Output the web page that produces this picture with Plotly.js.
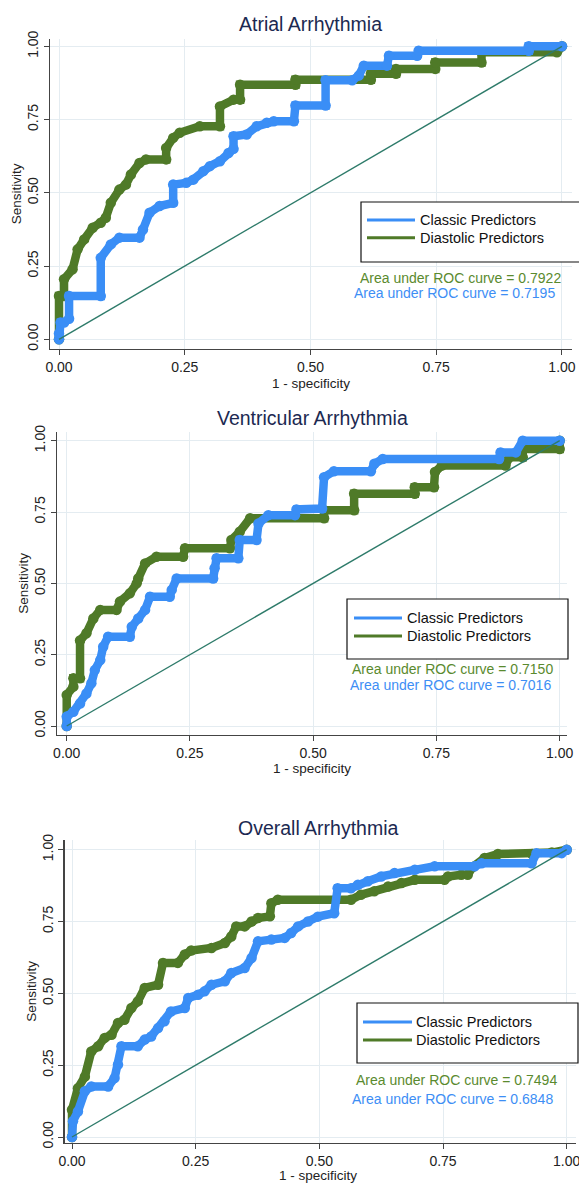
<!DOCTYPE html>
<html>
<head>
<meta charset="utf-8">
<script src="https://cdn.plot.ly/plotly-3.0.1.min.js"></script>
<style>html,body{margin:0;padding:0;background:#fff;}#chart{width:579px;height:1184px;}</style>
</head>
<body>
<div id="chart"></div>
<script>
// ---------- data ----------
const panelTitles = ["Atrial Arrhythmia", "Ventricular Arrhythmia", "Overall Arrhythmia"];
const seriesNames = ["Classic Predictors", "Diastolic Predictors"];
const aucClassic = ["0.7195", "0.7016", "0.6848"];
const aucDiastolic = ["0.7922", "0.7150", "0.7494"];
const tickVals = [0, 0.25, 0.5, 0.75, 1];
const tickLabels = ["0.00", "0.25", "0.50", "0.75", "1.00"];
const xTitle = "1 - specificity";
const yTitle = "Sensitivity";
const refX = [0, 1];
const refY = [0, 1];

// Atrial
const atrialClassicX = [0,0,0.003,0.01,0.02,0.02,0.083,0.083,0.103,0.12,0.16,0.167,0.18,0.2,0.227,0.227,0.253,0.267,0.287,0.3,0.32,0.337,0.347,0.347,0.373,0.393,0.413,0.427,0.467,0.47,0.53,0.53,0.583,0.596,0.606,0.652,0.656,0.712,0.715,0.934,0.934,1.0];
const atrialClassicY = [0,0.02,0.057,0.057,0.07,0.148,0.148,0.278,0.324,0.347,0.347,0.375,0.432,0.455,0.466,0.528,0.534,0.545,0.574,0.591,0.608,0.636,0.65,0.693,0.699,0.727,0.739,0.744,0.744,0.798,0.798,0.884,0.884,0.9,0.934,0.934,0.968,0.968,0.985,0.985,1.0,1.0];
const atrialDiastolicX = [0,0,0.01,0.01,0.027,0.037,0.05,0.067,0.083,0.093,0.103,0.12,0.133,0.143,0.16,0.173,0.213,0.213,0.227,0.24,0.28,0.32,0.32,0.347,0.36,0.36,0.47,0.47,0.62,0.62,0.67,0.67,0.748,0.748,0.84,0.84,0.99,1.0];
const atrialDiastolicY = [0,0.148,0.148,0.205,0.239,0.307,0.341,0.381,0.398,0.415,0.466,0.511,0.528,0.5625,0.602,0.614,0.614,0.653,0.6875,0.705,0.727,0.727,0.795,0.818,0.818,0.869,0.869,0.886,0.886,0.906,0.906,0.923,0.923,0.945,0.945,0.98,0.98,1.0];

// Ventricular
const ventClassicX = [0,0,0.0135,0.027,0.04,0.05,0.057,0.068,0.074,0.084,0.128,0.132,0.145,0.159,0.169,0.209,0.213,0.223,0.297,0.30,0.304,0.348,0.351,0.385,0.389,0.409,0.463,0.466,0.518,0.522,0.542,0.617,0.624,0.641,0.877,0.88,0.911,0.925,1.0];
const ventClassicY = [0,0.033,0.05,0.079,0.114,0.15,0.196,0.231,0.278,0.313,0.313,0.348,0.377,0.407,0.453,0.453,0.477,0.517,0.517,0.553,0.588,0.588,0.652,0.652,0.71,0.739,0.739,0.759,0.762,0.872,0.893,0.893,0.919,0.936,0.936,0.959,0.959,1.0,1.0];
const ventDiastolicX = [0,0,0.0135,0.0135,0.027,0.027,0.04,0.054,0.068,0.101,0.108,0.128,0.142,0.145,0.159,0.182,0.236,0.24,0.331,0.334,0.351,0.372,0.522,0.522,0.583,0.583,0.706,0.706,0.745,0.747,0.761,0.89,0.898,0.925,0.925,1.0,1.0];
const ventDiastolicY = [0,0.109,0.138,0.167,0.167,0.30,0.325,0.377,0.407,0.407,0.436,0.465,0.5,0.517,0.57,0.593,0.593,0.623,0.623,0.652,0.681,0.728,0.728,0.756,0.756,0.814,0.814,0.837,0.837,0.89,0.913,0.913,0.942,0.942,0.971,0.971,1.0];

// Overall
const overallClassicX = [0,0.002,0.012,0.026,0.039,0.073,0.086,0.093,0.1,0.133,0.147,0.16,0.174,0.187,0.2,0.228,0.235,0.255,0.268,0.282,0.309,0.322,0.349,0.363,0.376,0.403,0.43,0.443,0.457,0.477,0.497,0.53,0.537,0.564,0.578,0.598,0.625,0.652,0.693,0.733,0.814,0.828,0.929,0.939,0.99,1.0];
const overallClassicY = [0,0.055,0.089,0.159,0.176,0.176,0.205,0.252,0.316,0.316,0.339,0.35,0.379,0.403,0.437,0.449,0.484,0.495,0.507,0.53,0.542,0.571,0.588,0.623,0.681,0.687,0.693,0.71,0.733,0.75,0.767,0.779,0.866,0.866,0.878,0.89,0.907,0.919,0.93,0.942,0.942,0.953,0.953,0.988,0.988,1.0];
const overallDiastolicX = [0,0,0.012,0.026,0.039,0.053,0.066,0.08,0.093,0.106,0.12,0.133,0.147,0.174,0.184,0.214,0.228,0.241,0.282,0.309,0.322,0.332,0.349,0.363,0.376,0.40,0.403,0.416,0.564,0.584,0.611,0.639,0.666,0.693,0.753,0.76,0.787,0.80,0.81,0.834,0.861,0.93,0.97,1.0];
const overallDiastolicY = [0,0.095,0.17,0.21,0.298,0.316,0.345,0.356,0.397,0.408,0.449,0.472,0.519,0.53,0.606,0.606,0.635,0.649,0.658,0.675,0.698,0.733,0.733,0.75,0.762,0.768,0.814,0.826,0.826,0.843,0.855,0.872,0.884,0.895,0.895,0.907,0.913,0.913,0.94,0.971,0.985,0.985,0.99,1.0];

// ---------- styling ----------
const W = 579, H = 1184;
const BLUE = "#3a8ef6", GREEN = "#4f7a28", REF = "#2e7b6a";
const FONT = "Liberation Sans, Arial, Helvetica, sans-serif";
const px = v => v / W;
const py = v => 1 - v / H;

const classic = [[atrialClassicX, atrialClassicY],[ventClassicX, ventClassicY],[overallClassicX, overallClassicY]];
const diastolic = [[atrialDiastolicX, atrialDiastolicY],[ventDiastolicX, ventDiastolicY],[overallDiastolicX, overallDiastolicY]];

// panel geometry (pixels)
const panels = [
  {x0:50, x1:572, y0:38.7, y1:349, xr:[-0.0179,1.0199], yr:[-0.0331,1.026], xt:{x:311,y:374.5,anchor:"top"},
   title:{x:310,y:24}, leg:{bx0:361,bx1:600,by0:202,by1:262,lx0:367,lx1:415,tx:419,t1:220,t2:237.7},
   auc:{gx:562,gy:278,bx:556,by:293.5}},
  {x0:57.3, x1:567, y0:431.7, y1:735, xr:[-0.0191,1.0148], yr:[-0.0315,1.0315], xt:{x:312,y:760,anchor:"top"},
   title:{x:312,y:418}, leg:{bx0:347,bx1:568,by0:599,by1:659,lx0:354,lx1:402,tx:406,t1:618,t2:636},
   auc:{gx:554,gy:669,bx:552,by:685}},
  {x0:64.7, x1:576, y0:839.7, y1:1143, xr:[-0.01476,1.0188], yr:[-0.0209,1.0348], xt:{x:318,y:1184,anchor:"bottom"},
   title:{x:318,y:828}, leg:{bx0:357,bx1:578,by0:1003,by1:1063,lx0:363,lx1:412,tx:415,t1:1022,t2:1040},
   auc:{gx:557.6,gy:1080,bx:554,by:1099}}
];

const traces = [];
const layout = {
  width: W, height: H,
  margin: {l:0, r:0, t:0, b:0},
  paper_bgcolor: "#fff", plot_bgcolor: "#fff",
  showlegend: false,
  font: {family: FONT, color: "#222", size: 14},
  shapes: [], annotations: []
};

panels.forEach((p, i) => {
  const sfx = i === 0 ? "" : String(i + 1);
  const xa = "x" + sfx, ya = "y" + sfx;
  traces.push({x: diastolic[i][0], y: diastolic[i][1], xaxis: xa, yaxis: ya, type: "scatter", mode: "lines+markers",
    name: seriesNames[1], line: {color: GREEN, width: 8.5}, marker: {color: GREEN, size: 10.5}, hoverinfo: "x+y"});
  traces.push({x: classic[i][0], y: classic[i][1], xaxis: xa, yaxis: ya, type: "scatter", mode: "lines+markers",
    name: seriesNames[0], line: {color: BLUE, width: 8.5}, marker: {color: BLUE, size: 10.5}, hoverinfo: "x+y"});
  traces.push({x: refX, y: refY, xaxis: xa, yaxis: ya, type: "scatter", mode: "lines",
    name: "Reference", line: {color: REF, width: 1.4}, hoverinfo: "skip"});

  const axCommon = {
    tickvals: tickVals, ticktext: tickLabels, ticks: "outside", ticklen: 5, tickwidth: 1, tickcolor: "#444",
    showline: true, linecolor: "#444", linewidth: 1.3, showgrid: true, gridcolor: "#e4ecf1", gridwidth: 1,
    zeroline: false, tickfont: {family: FONT, size: 14, color: "#222"}, fixedrange: true,
    ticklabeloverflow: "allow"
  };
  layout["xaxis" + sfx] = Object.assign({}, axCommon, {
    domain: [px(p.x0), px(p.x1)], range: p.xr, anchor: ya
  });
  layout["yaxis" + sfx] = Object.assign({}, axCommon, {
    domain: [py(p.y1), py(p.y0)], range: p.yr, anchor: xa, tickangle: -90,
    title: {text: yTitle, font: {family: FONT, size: 13.5, color: "#222"}, standoff: 0}
  });

  layout.annotations.push({text: xTitle, xref: "paper", yref: "paper", x: px(p.xt.x), y: py(p.xt.y),
    xanchor: "center", yanchor: p.xt.anchor, showarrow: false, borderpad: 0, font: {family: FONT, size: 13.5, color: "#222"}});

  layout.annotations.push({text: panelTitles[i], xref: "paper", yref: "paper", x: px(p.title.x), y: py(p.title.y),
    xanchor: "center", yanchor: "middle", showarrow: false, font: {family: FONT, size: 19.5, color: "#1c2951"}});

  const L = p.leg;
  layout.shapes.push({type: "rect", xref: "paper", yref: "paper", x0: px(L.bx0), x1: px(L.bx1), y0: py(L.by1), y1: py(L.by0),
    line: {color: "#111", width: 1.2}, fillcolor: "#fff", layer: "above"});
  layout.shapes.push({type: "line", xref: "paper", yref: "paper", x0: px(L.lx0), x1: px(L.lx1), y0: py(L.t1), y1: py(L.t1),
    line: {color: BLUE, width: 3}, layer: "above"});
  layout.shapes.push({type: "line", xref: "paper", yref: "paper", x0: px(L.lx0), x1: px(L.lx1), y0: py(L.t2), y1: py(L.t2),
    line: {color: GREEN, width: 3}, layer: "above"});
  layout.annotations.push({text: seriesNames[0], xref: "paper", yref: "paper", x: px(L.tx), y: py(L.t1),
    xanchor: "left", yanchor: "middle", showarrow: false, borderpad: 0, font: {family: FONT, size: 14.5, color: "#111"}});
  layout.annotations.push({text: seriesNames[1], xref: "paper", yref: "paper", x: px(L.tx), y: py(L.t2),
    xanchor: "left", yanchor: "middle", showarrow: false, borderpad: 0, font: {family: FONT, size: 14.5, color: "#111"}});

  const A = p.auc;
  layout.annotations.push({text: "Area under ROC curve = " + aucDiastolic[i], xref: "paper", yref: "paper",
    x: px(A.gx), y: py(A.gy), xanchor: "right", yanchor: "middle", showarrow: false, borderpad: 0,
    font: {family: FONT, size: 14, color: "#5a8a2e"}});
  layout.annotations.push({text: "Area under ROC curve = " + aucClassic[i], xref: "paper", yref: "paper",
    x: px(A.bx), y: py(A.by), xanchor: "right", yanchor: "middle", showarrow: false, borderpad: 0,
    font: {family: FONT, size: 14, color: "#3d8ef5"}});
});

Plotly.newPlot("chart", traces, layout, {displayModeBar: false, staticPlot: true});
</script>
</body>
</html>
